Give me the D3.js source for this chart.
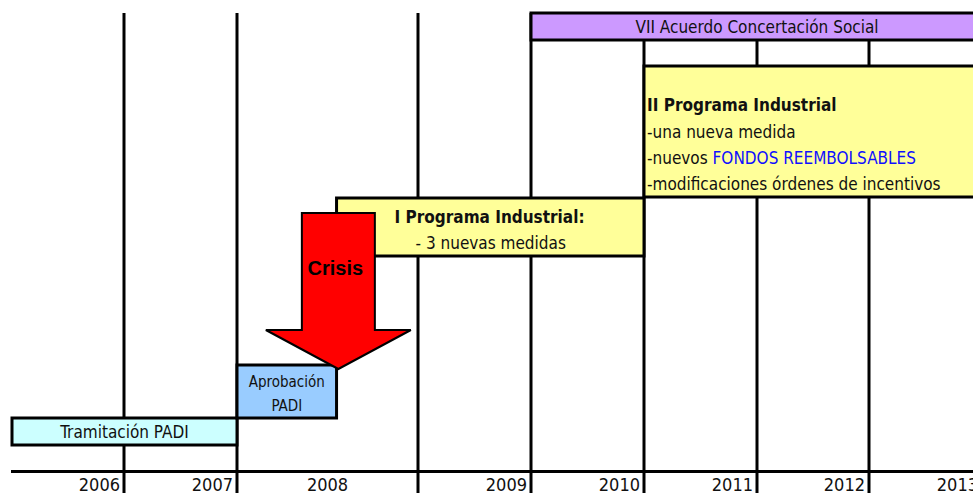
<!DOCTYPE html>
<html>
<head>
<meta charset="utf-8">
<script src="https://cdn.jsdelivr.net/npm/d3@7"></script>
<style>
  body { margin: 0; background: #fff; }
  svg { display: block; }
  .narrow { font-family: "Liberation Sans Narrow", "Arial Narrow", "DejaVu Sans Condensed", sans-serif; fill: #111; }
</style>
</head>
<body>
<script>
// Years on the time axis
const years = [2006, 2007, 2008, 2009, 2010, 2011, 2012, 2013];

// Phases: label, start year, end year, row, colour
const phaseNames = ["Tramitación PADI", "Aprobación PADI", "I Programa Industrial", "II Programa Industrial", "VII Acuerdo Concertación Social"];
const phaseStart = [2006, 2008, 2008.55, 2011, 2010];
const phaseEnd   = [2008, 2008.55, 2011, 2014.5, 2014.5];
const phaseRow   = ["tram", "aprob", "prog1", "prog2", "acuerdo"];
const phaseColor = ["#CCFFFF", "#99CCFF", "#FFFF99", "#FFFF99", "#CC99FF"];

// Crisis arrow lands here
const crisisYear = 2008.56;

const width = 973;
const height = 493;

// Unequal column widths, so a piecewise linear scale on year starts
const x = d3.scaleLinear()
    .domain([2006, 2007, 2008, 2009, 2010, 2011, 2012, 2013, 2014])
    .range([12, 124, 237, 418, 531, 644, 757, 869, 982]);

// rows -> [top, bottom]
const rowY = d3.scaleOrdinal()
    .domain(["acuerdo", "prog2", "prog1", "aprob", "tram"])
    .range([[13, 40], [66, 197], [198, 256], [365, 418], [418, 445]]);

const axisY = 471.5;

const svg = d3.select('body')
    .append('svg')
    .attr('width', width)
    .attr('height', height);

// Vertical year separators
svg.append('g')
    .selectAll('line')
    .data(years.slice(1).concat([2014]))
    .join('line')
    .attr('x1', d => x(d))
    .attr('x2', d => x(d))
    .attr('y1', 13)
    .attr('y2', height)
    .attr('stroke', '#000')
    .attr('stroke-width', 3);

// Baseline
svg.append('line')
    .attr('x1', 11)
    .attr('x2', width)
    .attr('y1', axisY)
    .attr('y2', axisY)
    .attr('stroke', '#000')
    .attr('stroke-width', 3);

// Year labels: right aligned in their column, 2008 is a merged cell so centred
svg.append('g')
    .selectAll('text')
    .data(years)
    .join('text')
    .attr('class', 'narrow')
    .attr('x', d => d === 2008 ? (x(d) + x(d + 1)) / 2 : x(d + 1) - 4)
    .attr('y', 491)
    .attr('text-anchor', d => d === 2008 ? 'middle' : 'end')
    .style('font-size', '18px')
    .text(d => d);

// Phase boxes
const phases = phaseNames.map((name, i) => ({
  name,
  start: phaseStart[i],
  end: phaseEnd[i],
  row: phaseRow[i],
  color: phaseColor[i]
}));

svg.append('g')
    .selectAll('rect')
    .data(phases)
    .join('rect')
    .attr('x', d => x(d.start))
    .attr('y', d => rowY(d.row)[0])
    .attr('width', d => x(d.end) - x(d.start))
    .attr('height', d => rowY(d.row)[1] - rowY(d.row)[0])
    .attr('fill', d => d.color)
    .attr('stroke', '#000')
    .attr('stroke-width', 3);

// Crisis arrow
const cx = x(crisisYear);
const arrowTop = 213, wingY = 330, tipY = 369;
const shaftHalf = 36.5, headHalf = 72.5;
svg.append('path')
    .attr('d', d3.line()([
      [cx - shaftHalf, arrowTop], [cx + shaftHalf, arrowTop], [cx + shaftHalf, wingY],
      [cx + headHalf, wingY], [cx, tipY], [cx - headHalf, wingY], [cx - shaftHalf, wingY]
    ]) + 'Z')
    .attr('fill', '#FF0000')
    .attr('stroke', '#000')
    .attr('stroke-width', 2);

svg.append('text')
    .attr('x', cx - 3)
    .attr('y', 275)
    .attr('text-anchor', 'middle')
    .style('font-family', '"Liberation Sans", Arial, sans-serif')
    .style('font-weight', 'bold')
    .style('font-size', '20px')
    .text('Crisis');

// Labels inside boxes
const byRow = Object.fromEntries(phases.map(d => [d.row, d]));

// Tramitación
svg.append('text')
    .attr('class', 'narrow')
    .attr('x', (x(byRow.tram.start) + x(byRow.tram.end)) / 2)
    .attr('y', 438)
    .attr('text-anchor', 'middle')
    .style('font-size', '17px')
    .text(byRow.tram.name);

// Aprobación (two lines)
const aprobX = (x(byRow.aprob.start) + x(byRow.aprob.end)) / 2;
svg.append('text')
    .attr('class', 'narrow')
    .attr('text-anchor', 'middle')
    .style('font-size', '15px')
    .selectAll('tspan')
    .data(["Aprobación", "PADI"])
    .join('tspan')
    .attr('x', aprobX)
    .attr('y', (d, i) => 387 + i * 24)
    .text(d => d);

// VII Acuerdo
svg.append('text')
    .attr('class', 'narrow')
    .attr('x', x(2012))
    .attr('y', 33)
    .attr('text-anchor', 'middle')
    .style('font-size', '17px')
    .text(byRow.acuerdo.name);

// I Programa Industrial
const p1x = x(byRow.prog1.start);
svg.append('text')
    .attr('class', 'narrow')
    .attr('x', p1x + 58)
    .attr('y', 223)
    .style('font-size', '17px')
    .style('font-weight', 'bold')
    .text(byRow.prog1.name + ':');
svg.append('text')
    .attr('class', 'narrow')
    .attr('x', p1x + 79)
    .attr('y', 249)
    .style('font-size', '17px')
    .text('- 3 nuevas medidas');

// II Programa Industrial
const p2x = x(byRow.prog2.start) + 3;
svg.append('text')
    .attr('class', 'narrow')
    .attr('x', p2x)
    .attr('y', 111)
    .style('font-size', '17px')
    .style('font-weight', 'bold')
    .text(byRow.prog2.name);

const p2lines = [
  [["-una nueva medida", "#111"]],
  [["-nuevos ", "#111"], ["FONDOS REEMBOLSABLES", "#1010FF"]],
  [["-modificaciones órdenes de incentivos", "#111"]]
];
p2lines.forEach((parts, i) => {
  const t = svg.append('text')
      .attr('class', 'narrow')
      .attr('x', p2x)
      .attr('y', 138 + i * 26)
      .style('font-size', '17px');
  parts.forEach(([s, c]) => t.append('tspan').style('fill', c).text(s));
});
</script>
</body>
</html>
